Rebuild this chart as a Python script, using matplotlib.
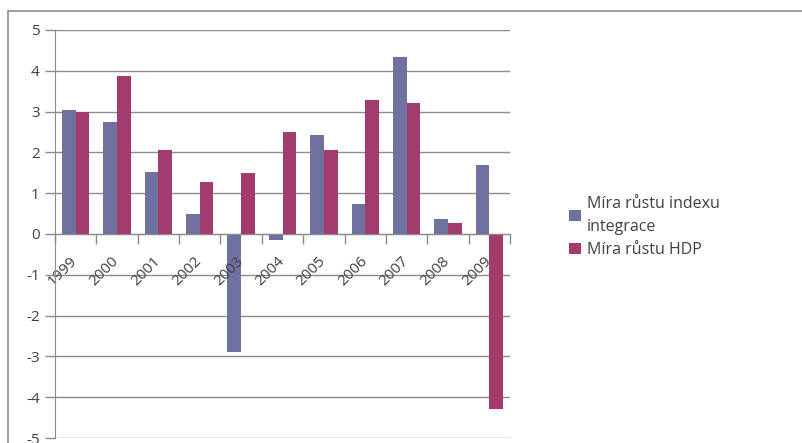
import numpy as np
import matplotlib.pyplot as plt
from matplotlib.patches import Rectangle
import matplotlib.transforms as mtransforms

plt.rcParams['font.family'] = ['Open Sans', 'DejaVu Sans']
plt.rcParams['axes.unicode_minus'] = False

years = ['1999', '2000', '2001', '2002', '2003', '2004', '2005', '2006', '2007', '2008', '2009']
index_growth = [3.04, 2.75, 1.53, 0.48, -2.9, -0.15, 2.42, 0.73, 4.33, 0.36, 1.7]
gdp_growth = [2.98, 3.87, 2.07, 1.28, 1.49, 2.49, 2.07, 3.29, 3.2, 0.28, -4.29]
series_names = ['Míra růstu indexu\nintegrace', 'Míra růstu HDP']

blue = '#6F71A1'
red = '#A23B6E'
grid_c = '#8C8C8C'
text_c = '#404040'

fig = plt.figure(figsize=(8.02, 4.43), dpi=100)
ax = fig.add_axes([55/802, 1-438/443, (510-55)/802, (438-30)/443])

x = np.arange(len(years))
w = 0.33
# grid behind the bars, tick labels above them
for v in range(-5, 6):
    ax.axhline(v, color=grid_c, linewidth=1.0, zorder=0.5)
b1 = ax.bar(x - w/2, index_growth, width=w, color=blue, label=series_names[0], zorder=1)
b2 = ax.bar(x + w/2, gdp_growth, width=w, color=red, label=series_names[1], zorder=1)

ax.set_xlim(-0.5, len(years) - 0.5)
ax.set_ylim(-5, 5)
ax.set_yticks(range(-5, 6))
ax.tick_params(axis='y', colors=grid_c, length=7, width=1, labelcolor=text_c, labelsize=11, pad=4)

for s in ['top', 'right']:
    ax.spines[s].set_visible(False)
ax.spines['left'].set_color(grid_c)
ax.spines['bottom'].set_color(grid_c)
ax.spines['bottom'].set_position(('data', 0))

# boundaries as tick marks, labels at centres
ax.set_xticks(np.arange(len(years) + 1) - 0.5, minor=True)
ax.set_xticks(x)
ax.set_xticklabels(years)
ax.tick_params(axis='x', which='minor', direction='out', length=7, width=1, colors=grid_c)
ax.tick_params(axis='x', which='major', length=0, pad=14, labelsize=11, labelcolor=text_c)
offset = mtransforms.ScaledTranslation(5/100, 0, fig.dpi_scale_trans)
for lbl in ax.get_xticklabels():
    lbl.set_rotation(45)
    lbl.set_ha('right')
    lbl.set_va('top')
    lbl.set_transform(lbl.get_transform() + offset)

leg = fig.legend(handles=[b1, b2], loc='center left', bbox_to_anchor=(555/802, 1-227/443),
                 frameon=False, fontsize=11.5, handlelength=0.7, handleheight=0.7,
                 handletextpad=0.4, labelspacing=0.45, labelcolor=text_c)
for t in leg.get_texts():
    t.set_linespacing(1.6)

fig.patches.append(Rectangle((8/802, -0.1), 1.1, 1.1 - 11/443, transform=fig.transFigure,
                             fill=False, edgecolor='#8C8C8C', linewidth=1.2))

fig.savefig('out.png', dpi=100)
